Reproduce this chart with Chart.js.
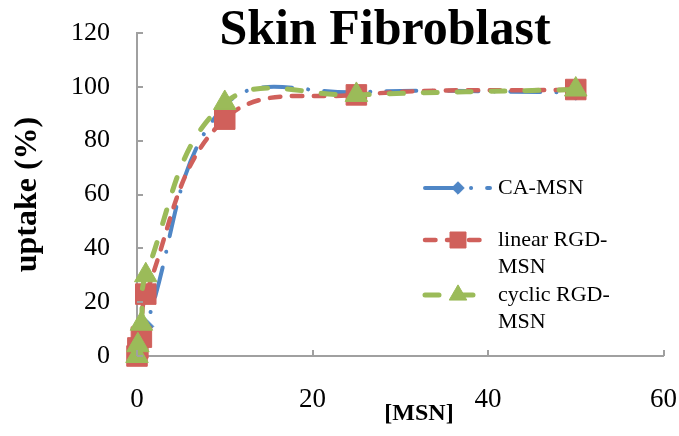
<!DOCTYPE html>
<html><head><meta charset="utf-8">
<script src="https://cdn.jsdelivr.net/npm/chart.js@4"></script>
<style>html,body{margin:0;padding:0;background:#fff;overflow:hidden}#wrap{position:relative;width:679px;height:436px}</style>
</head><body><div id="wrap"><canvas id="c"></canvas></div>
<script>
// ---- data ----
const concentrations = [0, 0.1, 0.5, 1, 10, 25, 50];
const caMSN      = [0, 1, 5, 11, 93, 98, 98];
const linearRGD  = [0, 3, 7, 23, 88, 97, 99];
const cyclicRGD  = [0, 4, 12, 30, 94, 97, 99];
const seriesNames = ['CA-MSN', 'linear RGD-MSN', 'cyclic RGD-MSN'];
const xTicks = [0, 20, 40, 60];
const yTicks = [0, 20, 40, 60, 80, 100, 120];
const chartTitle = 'Skin Fibroblast';
const xTitle = '[MSN]';
const yTitle = 'uptake (%)';

const FONT = "'Liberation Serif', 'Times New Roman', serif";
const AXIS = '#a0a0a0';
const toPts = arr => concentrations.map((x, i) => ({x, y: arr[i]}));

const styles = [
  {color: '#4f86c6', dash: [30, 16, 0.1, 16], width: 4, point: 'rectRot', r: 8, order: 3},
  {color: '#d0605b', dash: [10.5, 11.5], width: 4.5, point: 'rect', r: 14.5, order: 2},
  {color: '#9bbb59', dash: [14, 20], width: 5, point: 'triangle', r: 13, order: 1}
];
const seriesData = [caMSN, linearRGD, cyclicRGD];

const datasets = seriesData.map((arr, i) => ({
  label: seriesNames[i],
  data: toPts(arr),
  showLine: true,
  borderColor: styles[i].color,
  backgroundColor: styles[i].color,
  borderWidth: styles[i].width,
  borderDash: styles[i].dash,
  borderCapStyle: 'round',
  tension: 0.4,
  pointStyle: styles[i].point,
  pointRadius: styles[i].r,
  pointHoverRadius: styles[i].r,
  pointBorderWidth: 1,
  pointBackgroundColor: styles[i].color,
  pointBorderColor: styles[i].color,
  order: styles[i].order,
  clip: false
}));

function wrapText(ctx, text, maxW) {
  const tokens = text.match(/[^\s-]+-?\s*/g) || [text];
  const lines = []; let cur = '';
  tokens.forEach(t => {
    const test = cur + t;
    if (cur && ctx.measureText(test.trim()).width > maxW) { lines.push(cur.trim()); cur = t; }
    else cur = test;
  });
  if (cur) lines.push(cur.trim());
  return lines;
}

const decorPlugin = {
  id: 'decor',
  afterDraw(chart) {
    const ctx = chart.ctx, xs = chart.scales.x, ys = chart.scales.y;
    ctx.save();
    // inside tick marks
    ctx.strokeStyle = AXIS; ctx.lineWidth = 2; ctx.setLineDash([]);
    yTicks.forEach(v => { const y = Math.round(ys.getPixelForValue(v)); ctx.beginPath(); ctx.moveTo(xs.left, y); ctx.lineTo(xs.left + 6, y); ctx.stroke(); });
    xTicks.forEach(v => { const x = Math.round(xs.getPixelForValue(v)); ctx.beginPath(); ctx.moveTo(x, ys.bottom); ctx.lineTo(x, ys.bottom - 6); ctx.stroke(); });
    // title
    ctx.fillStyle = '#000';
    ctx.font = "bold 50px " + FONT;
    ctx.textAlign = 'center'; ctx.textBaseline = 'alphabetic';
    ctx.fillText(chartTitle, 385, 44);
    // x title
    ctx.font = "bold 24px " + FONT;
    ctx.textBaseline = 'middle';
    ctx.fillText(xTitle, 419, 414);
    // legend
    const entryY = [188, 240, 295];
    ctx.font = "22px " + FONT;
    chart.data.datasets.forEach((ds, i) => {
      const y = entryY[i];
      ctx.save();
      ctx.strokeStyle = ds.borderColor; ctx.lineWidth = ds.borderWidth;
      ctx.lineCap = 'round'; ctx.setLineDash(ds.borderDash);
      ctx.beginPath(); ctx.moveTo(425, y); ctx.lineTo(490, y); ctx.stroke();
      ctx.restore();
      ctx.fillStyle = ds.pointBackgroundColor; ctx.strokeStyle = ds.pointBorderColor; ctx.lineWidth = 1;
      Chart.helpers.drawPoint(ctx, {pointStyle: ds.pointStyle, radius: ds.pointRadius * 0.78, rotation: 0, borderWidth: 1}, 458, y);
      ctx.fillStyle = '#000'; ctx.textAlign = 'left'; ctx.textBaseline = 'middle';
      wrapText(ctx, ds.label, 125).forEach((ln, k) => ctx.fillText(ln, 498, y + k * 27));
    });
    ctx.restore();
  }
};

new Chart(document.getElementById('c'), {
  type: 'scatter',
  data: {datasets},
  plugins: [decorPlugin],
  options: {
    responsive: true, maintainAspectRatio: false, animation: false,
    devicePixelRatio: 1,
    layout: {padding: {top: 33, right: 14, left: 0, bottom: 0}},
    plugins: {legend: {display: false}, tooltip: {enabled: false}, title: {display: false}},
    scales: {
      x: {
        type: 'linear', min: 0, max: 60,
        afterFit: s => { s.height = 80; s.paddingLeft = 0; s.paddingRight = 0; },
        afterBuildTicks: s => { s.ticks = xTicks.map(v => ({value: v})); },
        grid: {display: false, drawTicks: false},
        border: {display: true, color: AXIS, width: 2},
        ticks: {color: '#000', font: {family: FONT, size: 27}, padding: 28, maxRotation: 0}
      },
      y: {
        type: 'linear', min: 0, max: 120,
        afterFit: s => { s.width = 137; s.paddingTop = 0; s.paddingBottom = 0; },
        afterBuildTicks: s => { s.ticks = yTicks.map(v => ({value: v})); },
        grid: {display: false, drawTicks: false},
        border: {display: true, color: AXIS, width: 2},
        ticks: {color: '#000', font: {family: FONT, size: 26}, padding: 27},
        title: {display: true, text: yTitle, color: '#000', font: {family: FONT, size: 32, weight: 'bold'}, padding: {top: 9, bottom: 0}}
      }
    }
  }
});
</script></body></html>
